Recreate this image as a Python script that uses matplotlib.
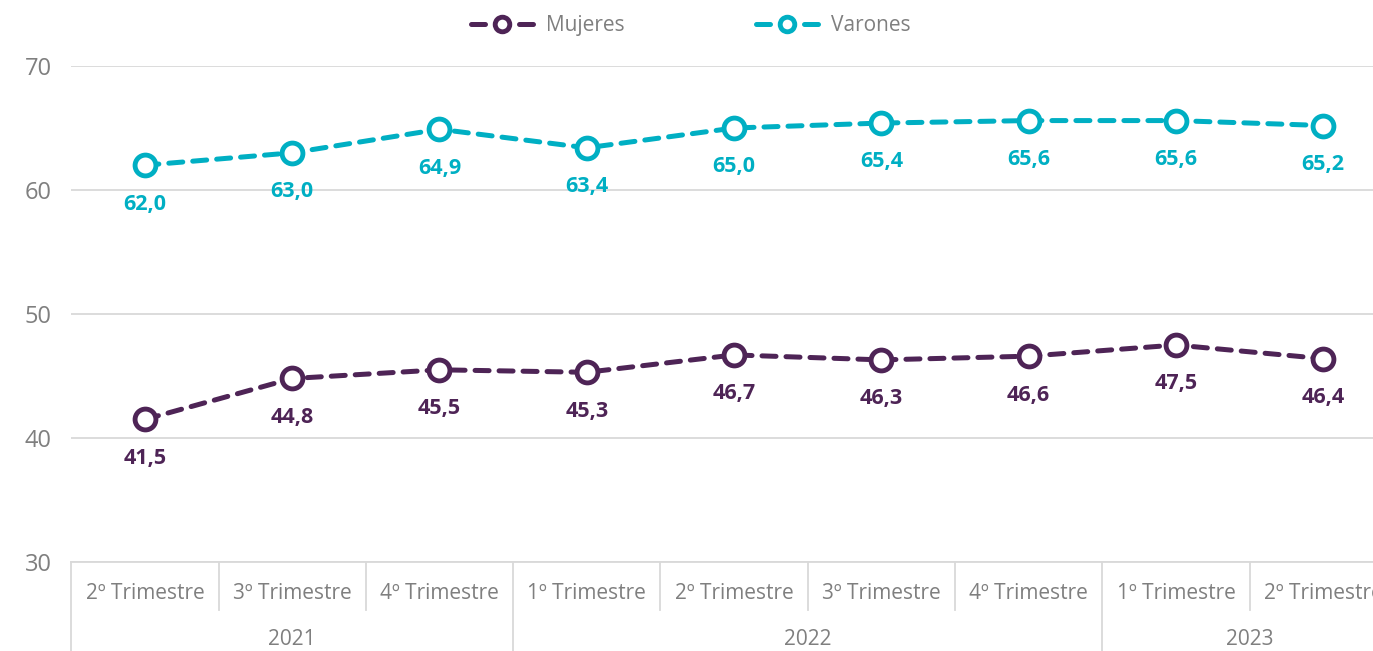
import matplotlib
matplotlib.use("Agg")
import matplotlib.pyplot as plt
import matplotlib.transforms as mtransforms

# data
quarters = ["2º Trimestre", "3º Trimestre", "4º Trimestre",
            "1º Trimestre", "2º Trimestre", "3º Trimestre", "4º Trimestre",
            "1º Trimestre", "2º Trimestre"]
years = ["2021", "2022", "2023"]
year_counts = [3, 4, 2]
mujeres = [41.5, 44.8, 45.5, 45.3, 46.7, 46.3, 46.6, 47.5, 46.4]
varones = [62.0, 63.0, 64.9, 63.4, 65.0, 65.4, 65.6, 65.6, 65.2]

col_muj = "#4E2456"
col_var = "#00AFC3"
grey_txt = "#7F7F7F"
grid_col = "#D9D9D9"

plt.rcParams["font.family"] = ["Open Sans", "DejaVu Sans"]

fig = plt.figure(figsize=(13.73, 6.51), dpi=100)
# plot area runs past the right edge of the picture, as in the original
ax = fig.add_axes([0.0519, 0.1367, 0.9655, 0.7619])

x = list(range(len(quarters)))

for vals, col, name in [(mujeres, col_muj, "Mujeres"), (varones, col_var, "Varones")]:
    ax.plot(x, vals, color=col, lw=3.6, dashes=(2.8, 2.0), dash_capstyle="round",
            marker="o", ms=15, mew=3.5, mfc="white", mec=col, label=name,
            zorder=3)
    for xi, v in zip(x, vals):
        ax.annotate(f"{v:.1f}".replace(".", ","), (xi, v), xytext=(0, -28),
                    textcoords="offset points", ha="center", va="center",
                    color=col, fontsize=15.5, fontweight="bold")

ax.set_xlim(-0.5, len(quarters) - 0.5)
ax.set_ylim(30, 70)
ax.set_yticks([30, 40, 50, 60, 70])
ax.yaxis.grid(True, color=grid_col, lw=1.3)
ax.set_axisbelow(True)
ax.tick_params(axis="y", length=0, labelsize=17, labelcolor=grey_txt, pad=14)
ax.set_xticks([])
for s in ["top", "right", "left"]:
    ax.spines[s].set_visible(False)
ax.spines["bottom"].set_color(grid_col)
ax.spines["bottom"].set_linewidth(1.3)

# two-level category axis
trans = mtransforms.blended_transform_factory(ax.transData, ax.transAxes)
for xi, q in zip(x, quarters):
    ax.text(xi, -0.064, q, transform=trans, ha="center", va="center",
            fontsize=15, color=grey_txt)

year_edges = [0]
for c in year_counts:
    year_edges.append(year_edges[-1] + c)
for i in range(len(quarters) + 1):
    xe = i - 0.5
    y_end = -0.18 if i in year_edges else -0.097
    ax.plot([xe, xe], [0, y_end], transform=trans, color=grid_col, lw=1.3,
            clip_on=False)
for yr, a, b in zip(years, year_edges[:-1], year_edges[1:]):
    ax.text((a + b - 1) / 2, -0.157, yr, transform=trans, ha="center",
            va="center", fontsize=15, color=grey_txt)

leg = fig.legend(loc="upper center", bbox_to_anchor=(0.503, 1.005), ncol=2,
                 frameon=False, fontsize=15, handlelength=3.0, markerscale=0.7,
                 columnspacing=6.3, handletextpad=0.6, labelcolor=grey_txt)

fig.savefig("out.png", dpi=100)
